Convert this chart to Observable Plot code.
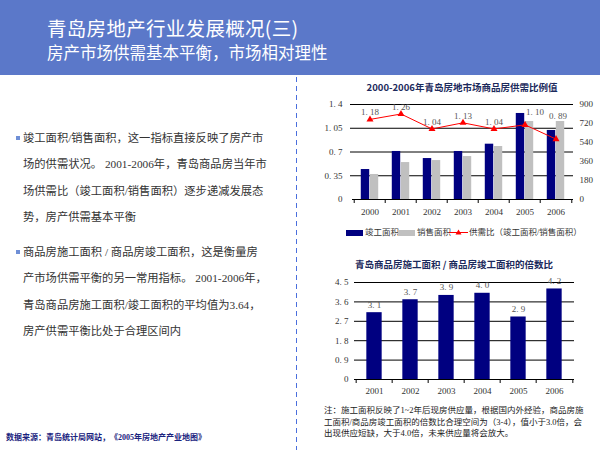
<!DOCTYPE html>
<html><head><meta charset="utf-8">
<script src="https://cdn.jsdelivr.net/npm/d3@7"></script>
<script src="https://cdn.jsdelivr.net/npm/@observablehq/plot@0.6"></script>
<style>
body{margin:0;width:600px;height:450px;position:relative;background:#fff;overflow:hidden;font-family:"Liberation Serif","Noto Sans CJK SC",serif;}
.abs{position:absolute;}
#header{left:0;top:0;width:600px;height:75px;background:#5b78c9;}
#t1{left:47px;top:17px;color:#fff;font-family:"Noto Sans CJK SC",sans-serif;font-size:19.5px;line-height:22px;letter-spacing:0.3px;white-space:nowrap;}
#t2{left:47px;top:44px;color:#fff;font-family:"Noto Sans CJK SC",sans-serif;font-size:16.5px;line-height:17px;white-space:nowrap;}
#vline{left:296px;top:77px;width:1px;height:373px;background:repeating-linear-gradient(to bottom,#4a6fdd 0 5px,transparent 5px 9px);}
.para{left:23px;font-size:11.3px;line-height:26.3px;color:#333;white-space:nowrap;}
.bullet{width:4px;height:4px;background:#6f8fd6;}
.ctitle{font-family:"Noto Sans CJK SC",sans-serif;font-weight:bold;font-size:9.5px;color:#1c2a5c;white-space:nowrap;transform:translateX(-50%);line-height:12px;}
.leg{top:227px;font-size:8.5px;color:#333;line-height:11px;white-space:nowrap;}
.sw{width:17px;height:6px;top:229.5px;}
#note{left:324px;top:405px;font-size:8.5px;line-height:11.5px;color:#222;white-space:nowrap;}
#src{left:6px;top:432px;font-size:8px;font-weight:bold;color:#1a237e;white-space:nowrap;line-height:12px;}
</style></head>
<body>
<div id="header" class="abs"></div>
<div id="t1" class="abs">青岛房地产行业发展概况(三)</div>
<div id="t2" class="abs">房产市场供需基本平衡，市场相对理性</div>
<div id="vline" class="abs"></div>

<div class="abs bullet" style="left:16px;top:136px;"></div>
<div class="abs para" style="top:125px;">竣工面积/销售面积，这一指标直接反映了房产市<br>场的供需状况。 2001-2006年，青岛商品房当年市<br>场供需比（竣工面积/销售面积）逐步递减发展态<br>势，房产供需基本平衡</div>
<div class="abs bullet" style="left:16px;top:250px;"></div>
<div class="abs para" style="top:239px;">商品房施工面积 / 商品房竣工面积，这是衡量房<br>产市场供需平衡的另一常用指标。 2001-2006年，<br>青岛商品房施工面积/竣工面积的平均值为3.64，<br>房产供需平衡比处于合理区间内</div>
<div id="src" class="abs">数据来源：青岛统计局网站，《2005年房地产产业地图》</div>

<div class="abs ctitle" style="left:462px;top:81px;">2000-2006年青岛房地市场商品房供需比例值</div>
<div id="c1" class="abs" style="left:300px;top:95px;"></div>
<div class="abs sw" style="left:346px;background:#000080;"></div>
<div class="abs leg" style="left:365px;">竣工面积</div>
<div class="abs sw" style="left:398px;background:#c0c0c0;"></div>
<div class="abs leg" style="left:417px;">销售面积</div>
<svg class="abs" style="left:449px;top:228px;" width="19" height="9"><line x1="0" y1="4.5" x2="19" y2="4.5" stroke="red" stroke-width="1"/><path d="M9.5,1.5 L12.5,6.5 L6.5,6.5 Z" fill="red"/></svg>
<div class="abs leg" style="left:469px;">供需比（竣工面积/销售面积）</div>

<div class="abs ctitle" style="left:454px;top:258px;">青岛商品房施工面积 / 商品房竣工面积的倍数比</div>
<div id="c2" class="abs" style="left:300px;top:272px;"></div>
<div id="note" class="abs">注：施工面积反映了1~2年后现房供应量，根据国内外经验，商品房施<br>工面积/商品房竣工面积的倍数比合理空间为（3-4），值小于3.0倍，会<br>出现供应短缺，大于4.0倍，未来供应量将会放大。</div>

<script>
// ---- Chart 1 data ----
const years1 = ["2000","2001","2002","2003","2004","2005","2006"];
const completedArea = [284, 455, 388, 455, 524, 815, 654];
const soldArea = [237, 350, 369, 407, 502, 739, 739];
const supplyRatio = [1.18, 1.26, 1.04, 1.13, 1.04, 1.10, 0.89];
const leftTicks1 = [0, 0.35, 0.7, 1.05, 1.4];
const rightTicks1 = [0, 180, 360, 540, 720, 900];

// ---- Chart 2 data ----
const years2 = ["2001","2002","2003","2004","2005","2006"];
const constructionMultiple = [3.1, 3.7, 3.9, 4.0, 2.9, 4.2];
const ticks2 = [0, 0.9, 1.8, 2.7, 3.6, 4.5];

const k = 1.4 / 900; // right axis -> left axis
const t1 = years1.map((y, i) => ({year: y, completed: completedArea[i], sold: soldArea[i], ratio: supplyRatio[i]}));
const t2 = years2.map((y, i) => ({year: y, v: constructionMultiple[i]}));

const fmt = d => String(d).replace(".", ". ");
const style = {fontFamily: '"Liberation Serif", serif', fontSize: "9px", color: "#333", overflow: "visible", background: "transparent"};

const w1 = 300, ml1 = 52, mr1 = 27;
const bw1 = (w1 - ml1 - mr1) / years1.length;
const barW1 = 9;
const special = ["2005", "2006"];

const chart1 = Plot.plot({
  width: w1, height: 126, marginLeft: ml1, marginRight: mr1, marginTop: 9, marginBottom: 22,
  style,
  x: {domain: years1, padding: 0, axis: null, label: null},
  y: {domain: [0, 1.4], axis: null, label: null},
  marks: [
    Plot.ruleY(leftTicks1.slice(1), {stroke: "#000", strokeWidth: 1, insetLeft: -2}),
    Plot.barY(t1, {x: "year", y: d => d.completed * k, fill: "#000080", insetLeft: bw1/2 - barW1, insetRight: bw1/2}),
    Plot.barY(t1, {x: "year", y: d => d.sold * k, fill: "#c0c0c0", insetLeft: bw1/2, insetRight: bw1/2 - barW1}),
    Plot.ruleY([0], {stroke: "#000", strokeWidth: 1}),
    Plot.axisX(years1, {tickSize: 4, tickFormat: () => "", dx: -bw1/2, stroke: "#000", label: null}),
    Plot.axisX(years1.slice(-1), {tickSize: 4, tickFormat: () => "", dx: bw1/2, stroke: "#000", label: null}),
    Plot.axisX(years1, {tickSize: 0, tickPadding: 9, fill: "#333", label: null}),
    Plot.axisY(leftTicks1, {anchor: "left", tickSize: 0, tickPadding: 10, tickFormat: fmt, fill: "#333", label: null}),
    Plot.axisY(rightTicks1.map(t => t * k), {anchor: "right", tickSize: 0, tickPadding: 6, tickFormat: d => String(Math.round(d / k)), fill: "#333", label: null}),
    Plot.line(t1, {x: "year", y: "ratio", stroke: "#ff0000", strokeWidth: 1}),
    Plot.dot(t1, {x: "year", y: "ratio", symbol: "triangle", fill: "#ff0000", r: 2.6}),
    Plot.text(t1.filter(d => !special.includes(d.year)), {x: "year", y: "ratio", text: d => fmt(d.ratio.toFixed(2)), dy: -7, fill: "#555"}),
    Plot.text(t1.filter(d => d.year === "2005"), {x: "year", y: "ratio", text: d => fmt(d.ratio.toFixed(2)), dy: -13, dx: 10, fill: "#555"}),
    Plot.text(t1.filter(d => d.year === "2006"), {x: "year", y: "ratio", text: d => fmt(d.ratio.toFixed(2)), dy: -23, dx: 2, fill: "#555"})
  ]
});
document.getElementById("c1").appendChild(chart1);

const w2 = 300, ml2 = 54, mr2 = 26;
const bw2 = (w2 - ml2 - mr2) / years2.length;
const barW2 = 16;

const chart2 = Plot.plot({
  width: w2, height: 129, marginLeft: ml2, marginRight: mr2, marginTop: 10, marginBottom: 22,
  style,
  x: {domain: years2, padding: 0, axis: null, label: null},
  y: {domain: [0, 4.5], axis: null, label: null},
  marks: [
    Plot.ruleY(ticks2.slice(1), {stroke: "#000", strokeWidth: 1}),
    Plot.barY(t2, {x: "year", y: "v", fill: "#000080", insetLeft: (bw2 - barW2)/2, insetRight: (bw2 - barW2)/2}),
    Plot.ruleY([0], {stroke: "#000", strokeWidth: 1}),
    Plot.axisX(years2, {tickSize: 4, tickFormat: () => "", dx: -bw2/2, stroke: "#000", label: null}),
    Plot.axisX(years2.slice(-1), {tickSize: 4, tickFormat: () => "", dx: bw2/2, stroke: "#000", label: null}),
    Plot.axisX(years2, {tickSize: 0, tickPadding: 8, fill: "#333", label: null}),
    Plot.axisY(ticks2, {anchor: "left", tickSize: 0, tickPadding: 6, tickFormat: d => fmt(d), fill: "#333", label: null}),
    Plot.text(t2, {x: "year", y: "v", text: d => fmt(d.v.toFixed(1)), dy: -8, fill: "#555"})
  ]
});
document.getElementById("c2").appendChild(chart2);
</script>
</body></html>
